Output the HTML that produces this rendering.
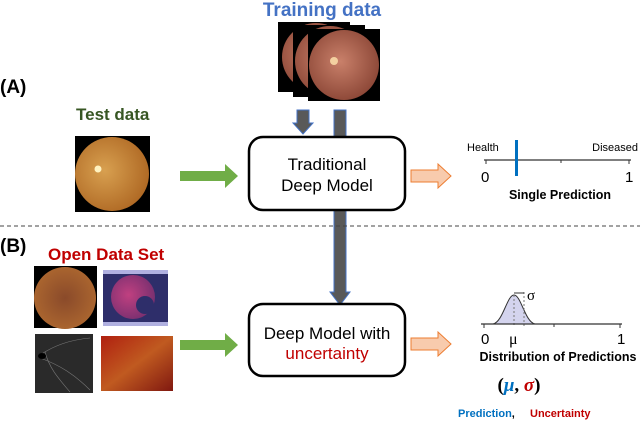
<!DOCTYPE html>
<html><head><meta charset="utf-8"><style>
body{margin:0;width:640px;height:422px;background:#fff;overflow:hidden;font-family:"Liberation Sans",sans-serif}
</style></head><body>
<svg width="640" height="422" viewBox="0 0 640 422" xmlns="http://www.w3.org/2000/svg" font-family="Liberation Sans, sans-serif">
<defs>
<radialGradient id="fr" cx="0.45" cy="0.45" r="0.6"><stop offset="0" stop-color="#c9806a"/><stop offset="1" stop-color="#8a4535"/></radialGradient>
<radialGradient id="fo" cx="0.4" cy="0.45" r="0.6"><stop offset="0" stop-color="#d8a050"/><stop offset="1" stop-color="#b06a25"/></radialGradient>
<radialGradient id="fb" cx="0.5" cy="0.5" r="0.6"><stop offset="0" stop-color="#8a4a2a"/><stop offset="1" stop-color="#b06a30"/></radialGradient>
<radialGradient id="fp" cx="0.4" cy="0.45" r="0.6"><stop offset="0" stop-color="#c04080"/><stop offset="1" stop-color="#7a3070"/></radialGradient>
<linearGradient id="fg" x1="0" y1="0" x2="1" y2="1"><stop offset="0" stop-color="#b02010"/><stop offset="0.5" stop-color="#c05a20"/><stop offset="1" stop-color="#801810"/></linearGradient>
</defs>
<text x="322" y="16" text-anchor="middle" font-size="19" font-weight="bold" fill="#4472C4">Training data</text>
<rect x="278" y="22" width="72" height="70" fill="#000"/><circle cx="316" cy="57" r="34" fill="url(#fr)"/>
<rect x="293" y="25" width="72" height="72" fill="#000"/><circle cx="330" cy="61" r="35" fill="url(#fr)"/>
<rect x="308" y="29" width="72" height="72" fill="#000"/><circle cx="344" cy="65" r="35" fill="url(#fr)"/><circle cx="334" cy="61" r="4" fill="#f3d0a0"/>
<text x="0" y="93" font-size="19" font-weight="bold">(A)</text>
<text x="76" y="120" font-size="17" font-weight="bold" fill="#375623">Test data</text>
<rect x="75" y="136" width="75" height="76" fill="#000"/><circle cx="112" cy="174" r="37" fill="url(#fo)"/><circle cx="98" cy="169" r="3.5" fill="#fff2c0"/>
<polygon points="180,171 225,171 225,164 238,176 225,188 225,181 180,181" fill="#70AD47"/>
<polygon points="297,110 309,110 309,123 313,123 303,134 293,123 297,123" fill="#595959" stroke="#4472C4" stroke-width="1"/>
<polygon points="334,110 346,110 346,292 350,292 340,305 330,292 334,292" fill="#595959" stroke="#4472C4" stroke-width="1"/>
<rect x="249" y="137" width="156" height="73" rx="14" fill="#fff" stroke="#000" stroke-width="2.5"/>
<text x="327" y="170" text-anchor="middle" font-size="17">Traditional</text>
<text x="327" y="191" text-anchor="middle" font-size="17">Deep Model</text>
<polygon points="411,170 438,170 438,164 451,176 438,188 438,182 411,182" fill="#F8CBAD" stroke="#ED7D31" stroke-width="1"/>
<line x1="484" y1="160" x2="631" y2="160" stroke="#333" stroke-width="1.2"/>
<line x1="486" y1="160" x2="486" y2="164" stroke="#333"/><line x1="561" y1="160" x2="561" y2="163" stroke="#333"/><line x1="629" y1="160" x2="629" y2="164" stroke="#333"/>
<rect x="515" y="140" width="3" height="36" fill="#0070C0"/>
<text x="467" y="151" font-size="11">Health</text>
<text x="638" y="151" font-size="11" text-anchor="end">Diseased</text>
<text x="481" y="182" font-size="15">0</text><text x="625" y="182" font-size="15">1</text>
<text x="560" y="199" font-size="12.5" font-weight="bold" text-anchor="middle">Single Prediction</text>
<line x1="0" y1="226" x2="640" y2="226" stroke="#444" stroke-width="1" stroke-dasharray="4,3"/>
<text x="0" y="252" font-size="19" font-weight="bold">(B)</text>
<text x="48" y="260" font-size="17" font-weight="bold" fill="#C00000">Open Data Set</text>
<rect x="34" y="266" width="63" height="62" fill="#000"/><circle cx="65" cy="298" r="31" fill="url(#fb)"/>
<rect x="103" y="270" width="65" height="56" fill="#b0b0e0"/><rect x="103" y="274" width="65" height="48" fill="#2e2e6a"/><circle cx="133" cy="297" r="22" fill="url(#fp)"/><circle cx="145" cy="305" r="9" fill="#2e2e6a"/>
<rect x="35" y="334" width="58" height="59" fill="#2a2a2a"/>
<g stroke="#777" stroke-width="0.6" fill="none"><path d="M40,355 C55,345 70,340 90,338"/><path d="M40,358 C60,365 75,375 90,390"/><path d="M45,352 C50,370 60,380 70,392"/></g>
<ellipse cx="42" cy="356" rx="4" ry="3" fill="#000"/>
<rect x="101" y="336" width="72" height="55" fill="url(#fg)"/>
<polygon points="180,340 225,340 225,333 238,345 225,357 225,350 180,350" fill="#70AD47"/>
<rect x="249" y="304" width="156" height="72" rx="14" fill="#fff" stroke="#000" stroke-width="2.5"/>
<text x="327" y="339" text-anchor="middle" font-size="17">Deep Model with</text>
<text x="327" y="359" text-anchor="middle" font-size="17" fill="#C00000">uncertainty</text>
<polygon points="411,338 438,338 438,332 451,344 438,356 438,350 411,350" fill="#F8CBAD" stroke="#ED7D31" stroke-width="1"/>
<path d="M493,324 C503,322 507,295 514,295 C521,295 525,322 535,324 Z" fill="#d4d4ee" stroke="#333" stroke-width="1"/>
<line x1="514" y1="295" x2="514" y2="326" stroke="#777" stroke-dasharray="2,2"/>
<line x1="524" y1="292" x2="524" y2="326" stroke="#777" stroke-dasharray="2,2"/>
<line x1="514" y1="293" x2="524" y2="293" stroke="#333"/>
<text x="527" y="300" font-size="15" font-family="Liberation Serif, serif">σ</text>
<line x1="481" y1="324" x2="622" y2="324" stroke="#333" stroke-width="1.2"/>
<line x1="484" y1="324" x2="484" y2="328" stroke="#333"/><line x1="554" y1="324" x2="554" y2="327" stroke="#333"/><line x1="620" y1="324" x2="620" y2="328" stroke="#333"/>
<text x="481" y="344" font-size="15">0</text><text x="509" y="344" font-size="16" font-family="Liberation Serif, serif">μ</text><text x="617" y="344" font-size="15">1</text>
<text x="558" y="361" font-size="12.5" font-weight="bold" text-anchor="middle">Distribution of Predictions</text>
<text x="519" y="391" font-size="19" font-family="Liberation Serif, serif" text-anchor="middle" font-weight="bold"><tspan>(</tspan><tspan fill="#0070C0" font-style="italic">μ</tspan><tspan>, </tspan><tspan fill="#C00000" font-style="italic">σ</tspan><tspan>)</tspan></text>
<text x="458" y="417" font-size="11" font-weight="bold" fill="#0070C0">Prediction<tspan fill="#000">,</tspan></text>
<text x="530" y="417" font-size="11" font-weight="bold" fill="#C00000">Uncertainty</text>
</svg>
</body></html>
